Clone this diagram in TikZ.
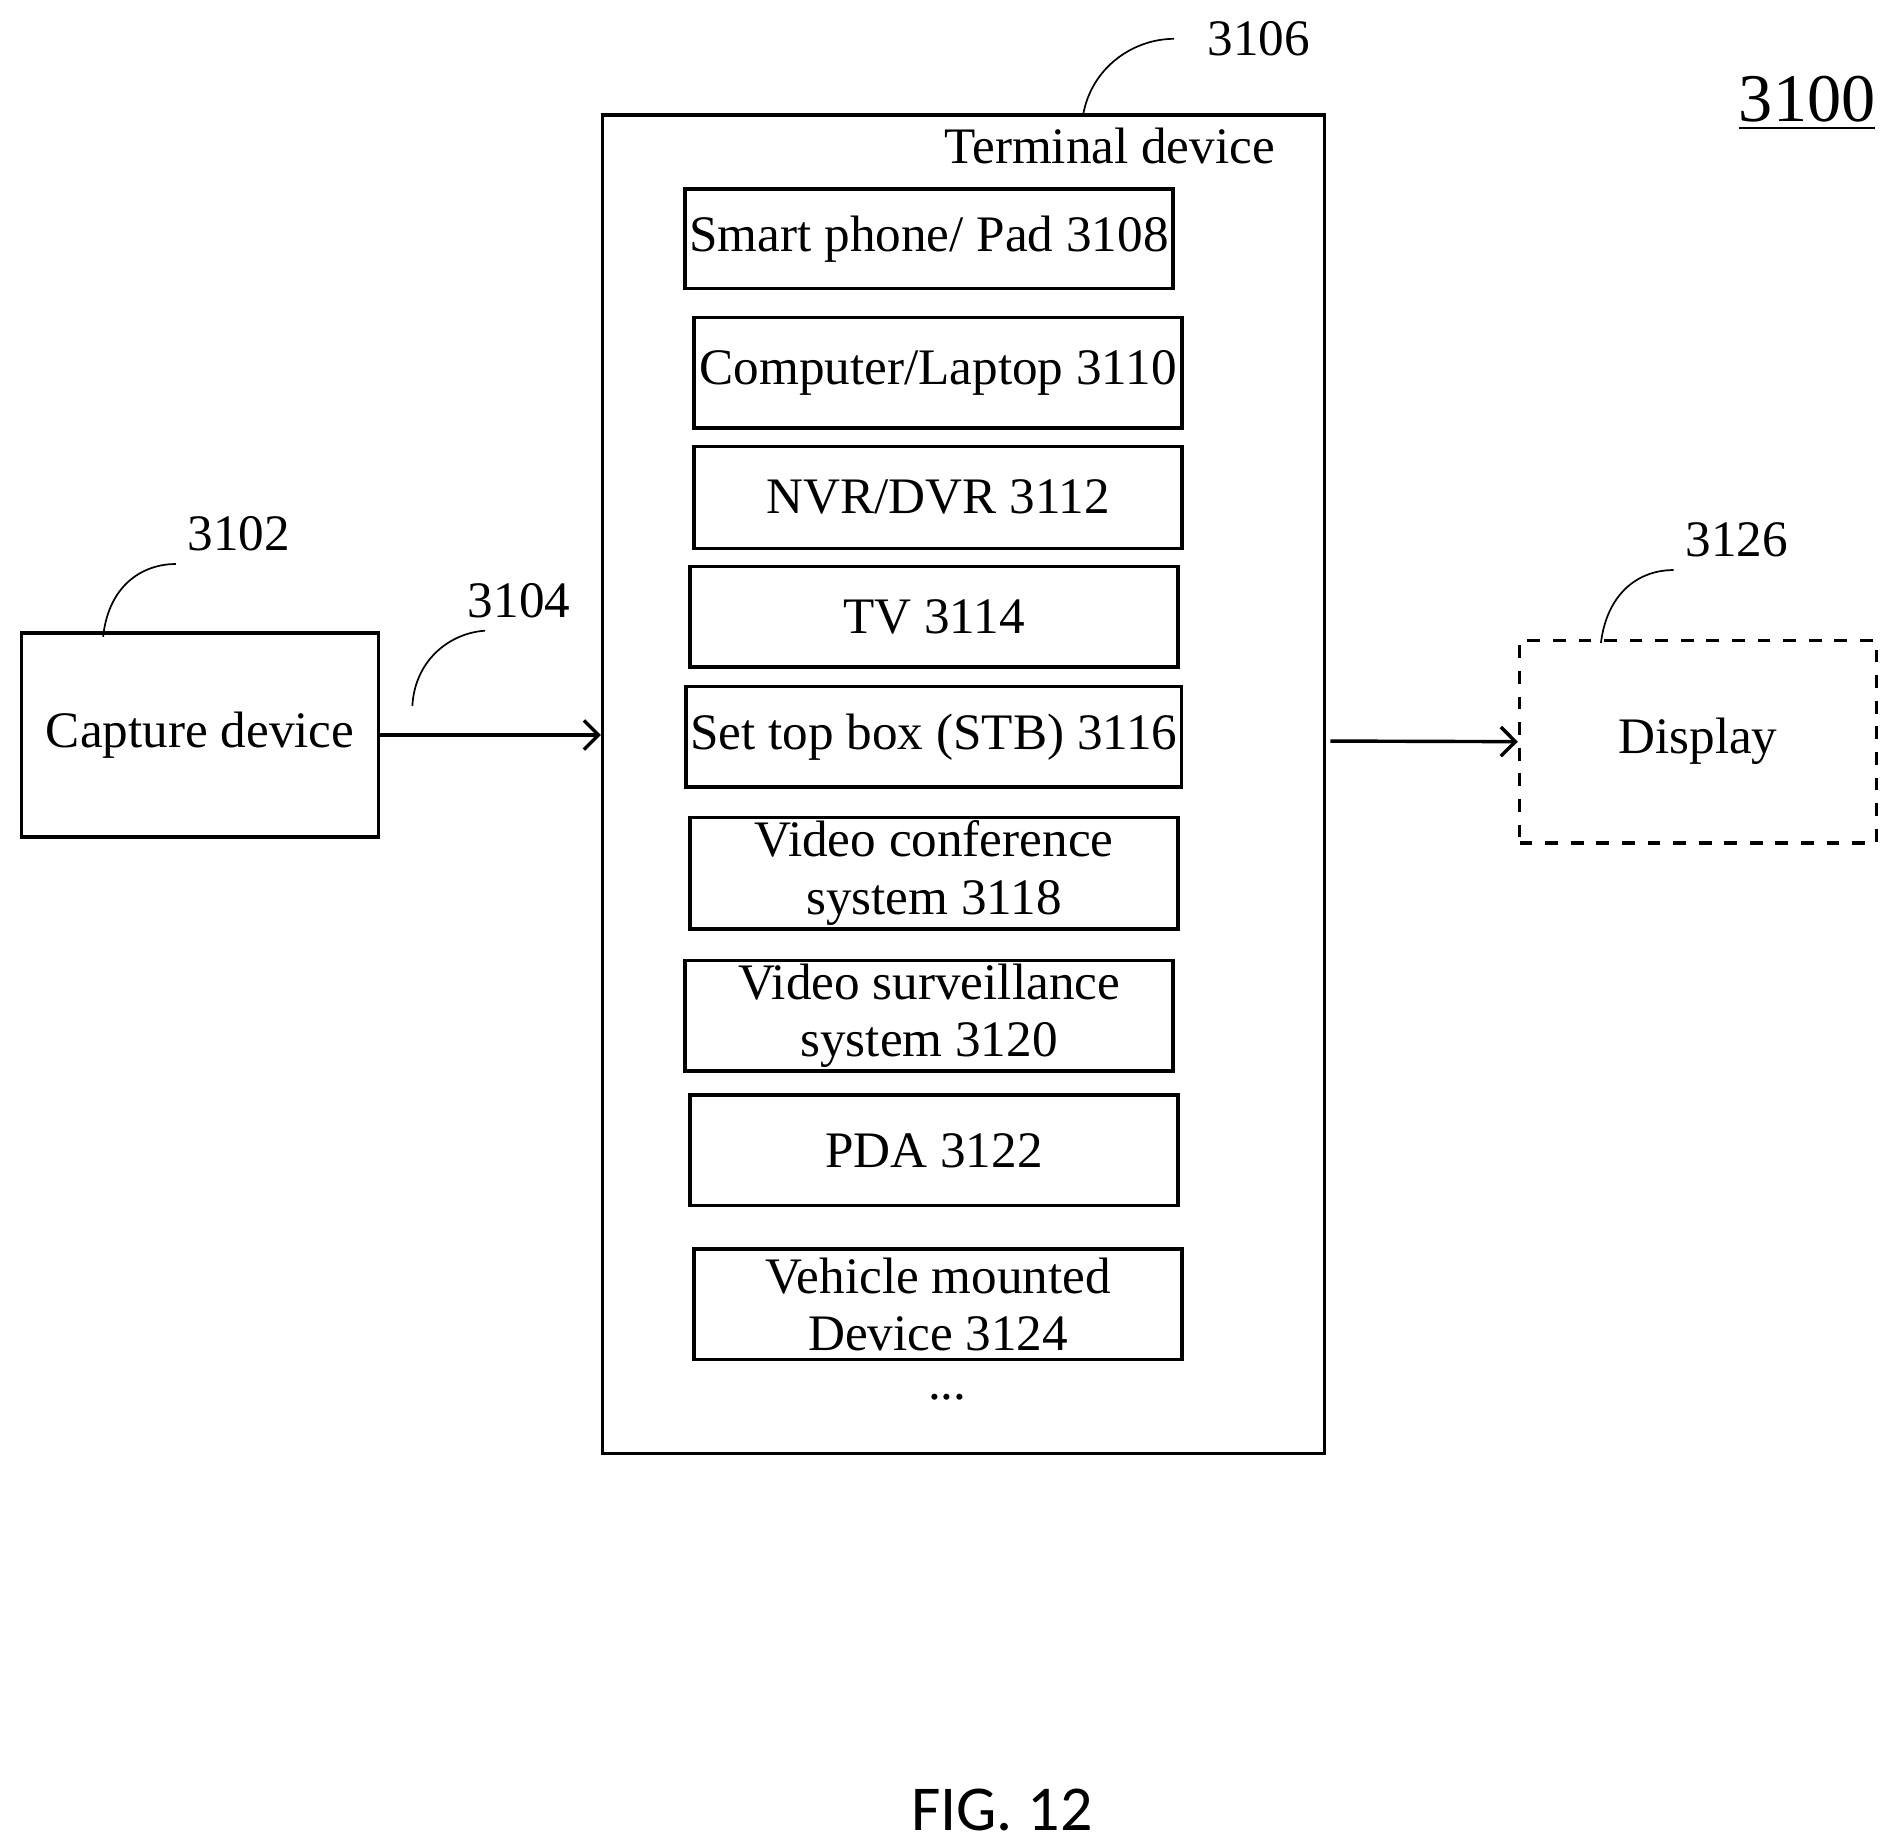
\documentclass[tikz,border=0pt]{standalone}
\usepackage{fontspec}
\setmainfont{Liberation Serif}
\newfontfamily\figfont{Carlito}
\usetikzlibrary{arrows.meta}
\tikzset{
  box/.style={draw, thick, minimum width=4.02cm, minimum height=0.85cm, inner xsep=1pt, align=center, font=\fontsize{12}{13.5}\selectfont},
  lead/.style={thin},
  num/.style={font=\fontsize{12}{13}\selectfont}
}
\begin{document}
\begin{tikzpicture}[x=0.01cm,y=-0.01cm]
	\useasboundingbox (0,0) rectangle (1560,1520);
	% capture side
	\node[box, minimum width=2.94cm, minimum height=1.68cm] (cap) at (165,606) {Capture device};
	\node[num] (n3102) at (197,440) {3102};
	\draw[lead] (85,525) .. controls (90,480) and (120,465) .. (145,465);
	\node[num] (n3104) at (428,495) {3104};
	\draw[lead] (340,582) .. controls (342,545) and (370,522) .. (400,520);

	% terminal device
	\node[draw, thick, minimum width=5.95cm, minimum height=11.03cm] (term) at (794.5,646.5) {};
	\node[num] (tlabel) at (915,120) {Terminal device};
	\node[num] (n3106) at (1038,32) {3106};
	\draw[lead] (893,95) .. controls (900,55) and (935,32) .. (968,32);

	\node[box, minimum height=0.82cm] (phone) at (766,197) {Smart phone/ Pad 3108};
	\node[box, minimum height=0.91cm] (laptop) at (773.5,307.5) {Computer/Laptop 3110};
	\node[box, minimum height=0.84cm] (nvr) at (773.5,410) {NVR/DVR 3112};
	\node[box, minimum height=0.83cm] (tv) at (770,508.5) {TV 3114};
	\node[box, minimum height=0.83cm] (stb) at (770,607.5) {Set top box (STB) 3116};
	\node[box, minimum height=0.92cm, inner sep=0pt] (vconf) at (770,720) {Video conference\\system 3118};
	\node[box, minimum height=0.91cm, inner sep=0pt] (vsurv) at (766,837.5) {Video surveillance\\system 3120};
	\node[box, minimum height=0.91cm] (pda) at (770,948.5) {PDA 3122};
	\node[box, minimum height=0.91cm, inner sep=0pt] (vehicle) at (773.5,1075.5) {Vehicle mounted\\Device 3124};
	\node[num, inner sep=0pt] (dots) at (781,1152) {...};

	% display side
	\node[box, dashed, minimum width=2.94cm, minimum height=1.67cm] (disp) at (1400,611.5) {Display};
	\node[num] (n3126) at (1432,445) {3126};
	\draw[lead] (1320,530) .. controls (1325,490) and (1350,470) .. (1380,470);

	\coordinate (out) at (1097,611);
	\draw[-{Straight Barb[length=1.2mm]}, thick] (cap.east) -- (cap.east -| term.west);
	\draw[-{Straight Barb[length=1.2mm]}, thick] (out) -- (disp.west);

	\node[font=\fontsize{16}{17}\selectfont] (n3100) at (1490,85) {\underline{3100}};
	\node[font=\figfont\fontsize{15}{16}\selectfont] (fig) at (826,1492) {FIG. 12};
\end{tikzpicture}
\end{document}
